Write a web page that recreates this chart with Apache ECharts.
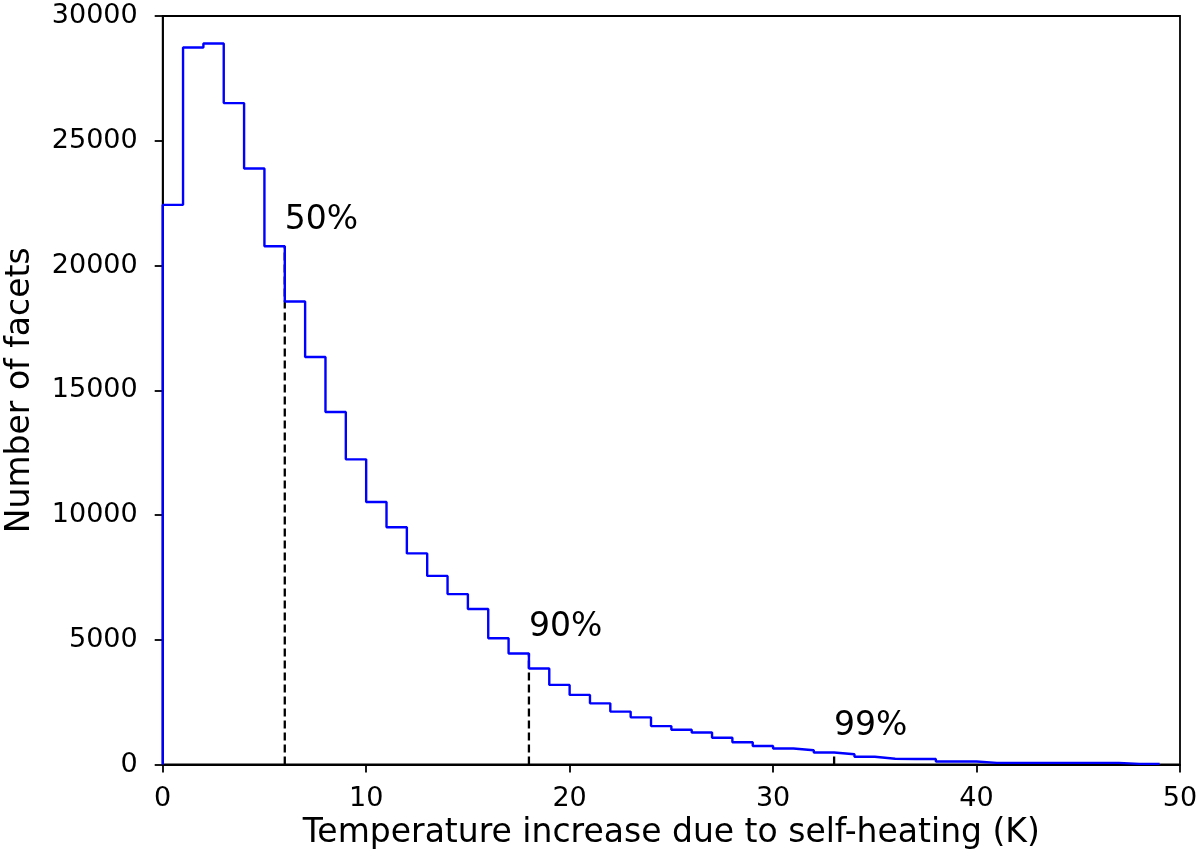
<!DOCTYPE html>
<html>
<head>
<meta charset="utf-8">
<script src="https://cdn.jsdelivr.net/npm/echarts@6/dist/echarts.min.js"></script>
<style>
  html, body { margin: 0; padding: 0; background: #fff; }
  #chart { width: 1200px; height: 860px; }
</style>
</head>
<body>
<div id="chart"></div>
<script>
// Histogram bin counts, bins of width 1 K starting at 0 K
const binStart = 0;
const binWidth = 1;
const counts = [22430, 28740, 28900, 26510, 23890, 20770, 18560, 16330, 14130, 12230,
                10520, 9510, 8460, 7560, 6830, 6230, 5060, 4450, 3850, 3190,
                2790, 2450, 2120, 1890, 1540, 1390, 1280, 1070, 890, 740,
                640, 570, 480, 410, 310, 230, 220, 220, 120, 120,
                65, 65, 65, 65, 65, 65, 65, 25, 25];
// Percentile markers
const percentileLabels = ['50%', '90%', '99%'];
const percentileX = [6, 18, 33];
// Axis ticks
const xTicks = [0, 10, 20, 30, 40, 50];
const yTicks = [0, 5000, 10000, 15000, 20000, 25000, 30000];

// Build step outline from bins
const stepPts = [[binStart, 0]];
counts.forEach((c, i) => {
  const x0 = binStart + i * binWidth;
  stepPts.push([x0, c]);
  stepPts.push([x0 + binWidth, c]);
});
stepPts.push([binStart + counts.length * binWidth, 0]);

function heightAt(x) {
  const i = Math.round((x - binStart) / binWidth);
  const left = counts[i - 1] !== undefined ? counts[i - 1] : 0;
  const right = counts[i] !== undefined ? counts[i] : 0;
  return Math.max(left, right);
}

const font = 'DejaVu Sans';
const series = [{
  type: 'line',
  data: stepPts,
  showSymbol: false,
  lineStyle: { color: '#0000ff', width: 2.4 },
  z: 3,
  silent: true
}];
percentileX.forEach((x, k) => {
  const h = heightAt(x);
  series.push({
    type: 'line',
    data: [[x, 0], [x, h]],
    showSymbol: false,
    lineStyle: { color: '#000', width: 2.3, type: [8, 4] },
    z: 2,
    silent: true
  });
  series.push({
    type: 'scatter',
    data: [[x, h]],
    symbolSize: 0,
    silent: true,
    itemStyle: { opacity: 1 },
    label: {
      show: true,
      formatter: percentileLabels[k],
      position: 'right',
      distance: 0,
      offset: [0, -26],
      fontSize: 33,
      fontFamily: font,
      color: '#000',
      opacity: 1,
      textBorderWidth: 0
    }
  });
});

const chart = echarts.init(document.getElementById('chart'), null, { renderer: 'canvas' });
chart.setOption({
  animation: false,
  backgroundColor: '#fff',
  textStyle: { fontFamily: font },
  grid: {
    left: 162.7, right: 20, top: 16, bottom: 95.5,
    containLabel: false, outerBoundsMode: 'none',
    show: true, borderColor: '#000', borderWidth: 1.8, backgroundColor: 'transparent'
  },
  xAxis: {
    type: 'value',
    min: xTicks[0], max: xTicks[xTicks.length - 1], interval: xTicks[1] - xTicks[0],
    name: 'Temperature increase due to self-heating (K)',
    nameLocation: 'middle', nameGap: 52,
    nameTextStyle: { fontSize: 33, color: '#000', fontFamily: font },
    axisLine: { show: true, onZero: false, lineStyle: { color: '#000', width: 1.8 } },
    axisTick: { show: true, inside: false, length: 8, lineStyle: { color: '#000', width: 1.8 } },
    axisLabel: { fontSize: 27, color: '#000', margin: 21, fontFamily: font },
    splitLine: { show: false }
  },
  yAxis: {
    type: 'value',
    min: yTicks[0], max: yTicks[yTicks.length - 1], interval: yTicks[1] - yTicks[0],
    name: 'Number of facets',
    nameLocation: 'middle', nameGap: 126,
    nameTextStyle: { fontSize: 33, color: '#000', fontFamily: font },
    axisLine: { show: true, onZero: false, lineStyle: { color: '#000', width: 1.8 } },
    axisTick: { show: true, inside: false, length: 8, lineStyle: { color: '#000', width: 1.8 } },
    axisLabel: { fontSize: 27, color: '#000', margin: 25, fontFamily: font,
                 formatter: v => String(v) },
    splitLine: { show: false }
  },
  series: series
});
</script>
</body>
</html>
